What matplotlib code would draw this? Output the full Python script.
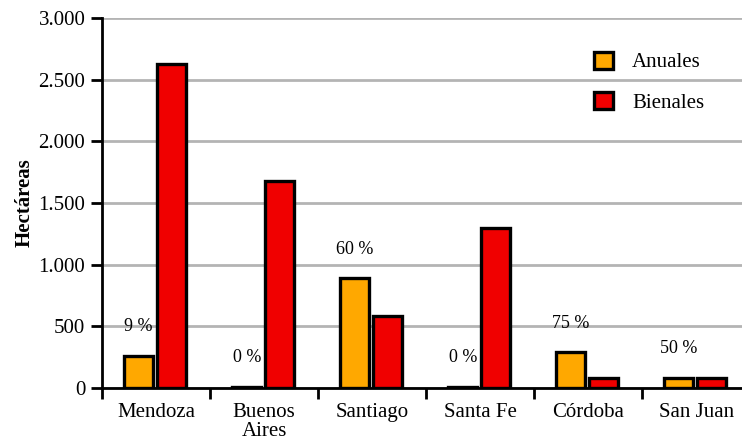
import matplotlib
matplotlib.use("Agg")
import matplotlib.pyplot as plt
import numpy as np
from matplotlib.ticker import FuncFormatter, FixedLocator

provincias = ["Mendoza", "Buenos\nAires", "Santiago", "Santa Fe", "Córdoba", "San Juan"]
anuales = [260, 10, 890, 10, 290, 85]
bienales = [2630, 1680, 580, 1300, 85, 85]
porcentajes = ["9 %", "0 %", "60 %", "0 %", "75 %", "50 %"]

plt.rcParams["font.family"] = ["Liberation Serif", "DejaVu Serif"]

fig = plt.figure(figsize=(7.42, 4.41), dpi=100)
ax = fig.add_axes([102 / 742, 53 / 441, 1 - 102 / 742, 370 / 441])

x = np.arange(len(provincias))
w = 0.27
ax.bar(x - 0.16, anuales, w, color="#ffa800", edgecolor="black", lw=2.4,
       label="Anuales", zorder=3)
ax.bar(x + 0.14, bienales, w, color="#f00000", edgecolor="black", lw=2.4,
       label="Bienales", zorder=3)

for xi, v, t in zip(x, anuales, porcentajes):
    ax.annotate(t, (xi - 0.16, v), xytext=(0, 21), textcoords="offset points",
                ha="center", va="center", fontsize=13)

ax.set_ylim(0, 3000)
ax.set_xlim(-0.5, -0.5 + (742 - 101) / 108.2)
ax.set_yticks(np.arange(0, 3001, 500))
ax.yaxis.set_major_formatter(FuncFormatter(lambda v, p: f"{int(v):,}".replace(",", ".")))
ax.yaxis.grid(True, color="#b4b4b4", lw=2, zorder=0)

ax.xaxis.set_major_locator(FixedLocator(np.arange(-0.5, 6, 1)))
ax.xaxis.set_major_formatter(FuncFormatter(lambda v, p: ""))
ax.set_xticks(x, minor=True)
ax.set_xticklabels(provincias, minor=True, fontsize=15, linespacing=1.0)
ax.tick_params(axis="x", which="minor", length=0, pad=11)
ax.tick_params(axis="x", which="major", length=8, width=2, direction="out")
ax.tick_params(axis="y", length=8, width=2, direction="out", labelsize=15, pad=4)

for s in ["top", "right"]:
    ax.spines[s].set_visible(False)
for s in ["left", "bottom"]:
    ax.spines[s].set_linewidth(2)

ax.set_ylabel("Hectáreas", fontsize=15, fontweight="bold", labelpad=3)

ax.legend(loc="upper right", bbox_to_anchor=(0.97, 0.96), frameon=False,
          fontsize=15, labelspacing=0.95, handlelength=0.9, handleheight=0.9,
          handletextpad=0.9)

fig.savefig("out.png", dpi=100)
